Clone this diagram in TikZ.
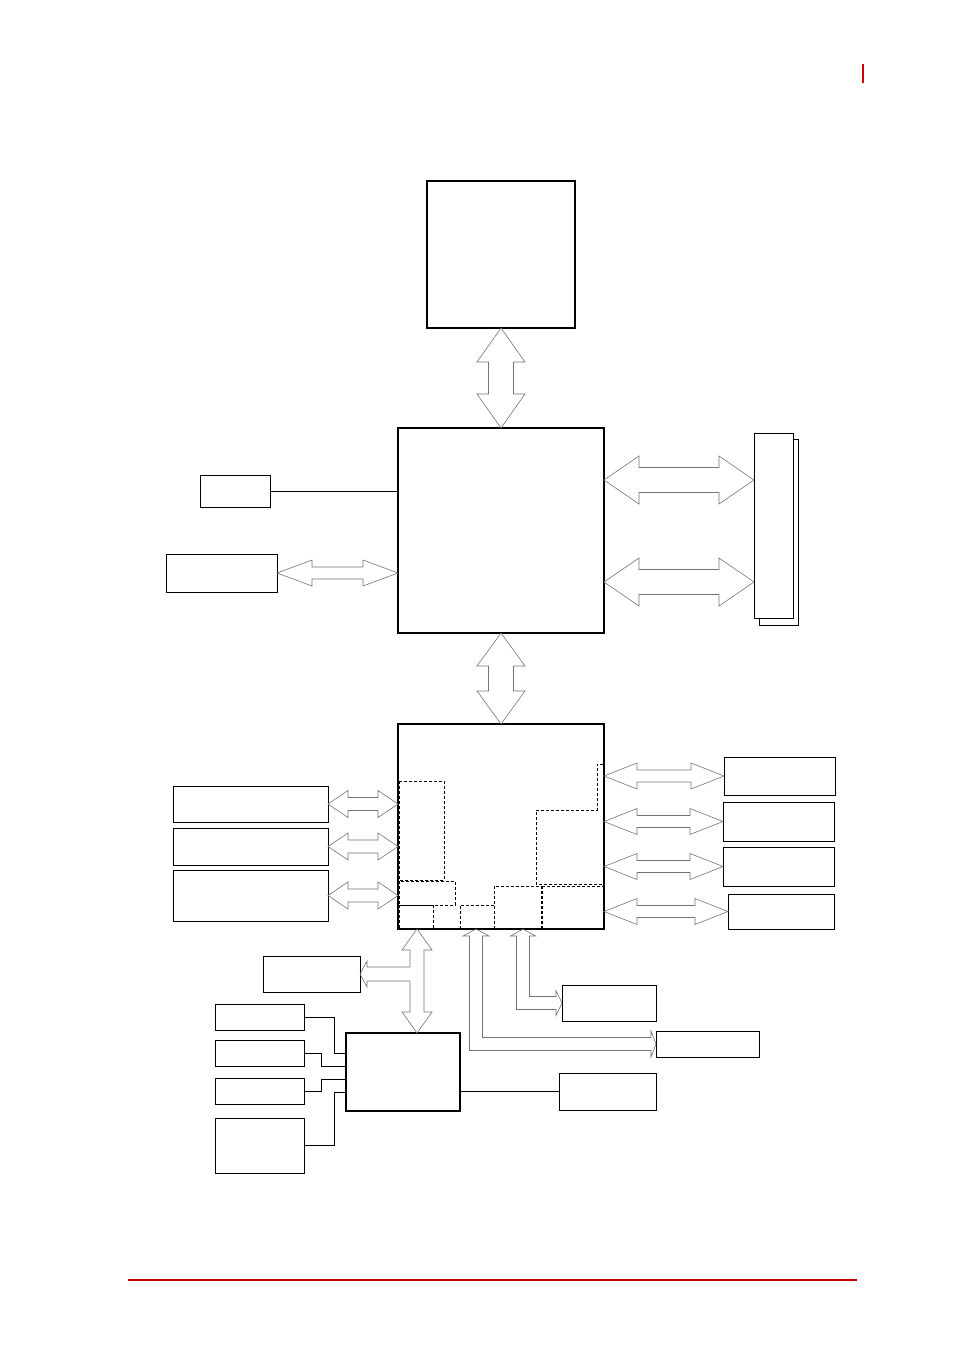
\documentclass[tikz,border=0pt]{standalone}
\usetikzlibrary{calc}
\definecolor{pagered}{HTML}{CC0000}
\tikzset{
  box/.style={draw, line width=0.8pt, inner sep=0pt, outer sep=0pt, anchor=north west},
  chip/.style={box, line width=2pt},
  wire/.style={draw, line width=0.8pt},
  busline/.style={draw=black!55, line width=0.6pt, line join=miter},
  zone/.style={draw, line width=0.8pt, dash pattern=on 3pt off 2pt},
  pageline/.style={draw=pagered, line width=2pt}
}
% hollow double bus arrow: from, to, head length, head half width, shaft half width
\newcommand\dbus[5]{%
  \coordinate (ba) at (#1); \coordinate (bb) at (#2);
  \coordinate (bp) at ($(ba)!#3!(bb)$); \coordinate (bq) at ($(bb)!#3!(ba)$);
  \draw[busline] (ba) -- ($(bp)!#4!90:(bb)$) -- ($(bp)!#5!90:(bb)$)
    -- ($(bq)!#5!-90:(ba)$) -- ($(bq)!#4!-90:(ba)$) -- (bb)
    -- ($(bq)!#4!90:(ba)$) -- ($(bq)!#5!90:(ba)$)
    -- ($(bp)!#5!-90:(bb)$) -- ($(bp)!#4!-90:(bb)$) -- cycle;}
\begin{document}
\begin{tikzpicture}[x=1pt, y=-1pt]
  \useasboundingbox (0,0) rectangle (954,1352);
  \draw[pageline] (863,64) -- (863,83);
  \draw[pageline] (128,1280) -- (857,1280);

  % processor and north bridge
  \node[box, line width=1.3pt, minimum width=148pt, minimum height=147pt] (cpu) at (427,181) {};
  \node[chip, minimum width=206pt, minimum height=205pt] (nb) at (398,428) {};
  \node[box, minimum width=39pt, minimum height=186pt] (memback) at (759,439) {};
  \node[box, fill=white, minimum width=39pt, minimum height=185pt] (mem) at (754,433) {};
  \node[box, minimum width=70pt, minimum height=32pt] (clk) at (200,475) {};
  \node[box, minimum width=111pt, minimum height=38pt] (vga) at (166,554) {};

  % south bridge with its inner blocks
  \draw[zone] (399,781) rectangle (444,880);
  \draw[zone] (399,881) rectangle (455,905);
  \draw[zone] (399,905) -- (399,929);
  \draw[zone] (433,905) -- (433,929);
  \draw[zone] (460,929) |- (494,905);
  \draw[zone] (494,886) rectangle (541,929);
  \draw[zone] (542,886) rectangle (603,929);
  \draw[zone] (603,764) -- (597,764) -- (597,810) -- (536,810) -- (536,884) -- (603,884);
  \draw[wire] (399,905) -- (433,905);
  \node[chip, minimum width=206pt, minimum height=205pt] (sb) at (398,724) {};

  \node[box, minimum width=155pt, minimum height=36pt] (ide) at (173,786) {};
  \node[box, minimum width=155pt, minimum height=37pt] (sata) at (173,828) {};
  \node[box, minimum width=155pt, minimum height=51pt] (usb) at (173,870) {};
  \node[box, minimum width=111pt, minimum height=38pt] (lan) at (724,757) {};
  \node[box, minimum width=111pt, minimum height=39pt] (audio) at (723,802) {};
  \node[box, minimum width=111pt, minimum height=39pt] (pcie) at (723,847) {};
  \node[box, minimum width=106pt, minimum height=35pt] (pci) at (728,894) {};

  % super I/O and its peripherals
  \node[box, minimum width=97pt, minimum height=36pt] (lb) at (263,956) {};
  \node[chip, line width=1.6pt, minimum width=114pt, minimum height=78pt] (sio) at (346,1033) {};
  \node[box, minimum width=89pt, minimum height=26pt] (k1) at (215,1004) {};
  \node[box, minimum width=89pt, minimum height=26pt] (k2) at (215,1040) {};
  \node[box, minimum width=89pt, minimum height=26pt] (k3) at (215,1078) {};
  \node[box, minimum width=89pt, minimum height=55pt] (k4) at (215,1118) {};
  \node[box, minimum width=97pt, minimum height=37pt] (p) at (559,1073) {};
  \node[box, minimum width=94pt, minimum height=36pt] (q) at (562,985) {};
  \node[box, minimum width=103pt, minimum height=26pt] (s) at (656,1031) {};

  % buses
  \dbus{cpu.south}{nb.north}{34pt}{24pt}{12.5pt}
  \dbus{nb.south}{sb.north}{33pt}{24pt}{12.5pt}
  \coordinate (m1) at ($(nb.north east)+(0,52)$);
  \coordinate (m2) at ($(nb.south east)+(0,-51)$);
  \dbus{m1}{m1 -| mem.west}{35pt}{24pt}{12.5pt}
  \dbus{m2}{m2 -| mem.west}{35pt}{24pt}{12.5pt}
  \draw[wire] (clk.east) -- (clk.east -| nb.west);
  \dbus{vga.east}{vga.east -| nb.west}{35pt}{13pt}{6pt}
  \foreach \n in {ide,sata,usb}{\dbus{\n.east}{\n.east -| sb.west}{20pt}{13.5pt}{6.5pt}}
  \foreach \n in {lan,audio,pcie,pci}{\dbus{\n.west -| sb.east}{\n.west}{33pt}{13pt}{6pt}}

  % bus down to the super I/O, with a branch to the left
  \coordinate (s1) at ($(sb.south west)+(19,0)$);
  \dbus{s1}{s1 |- sio.north}{21pt}{15pt}{7pt}
  \fill[white] ($(s1 |- lb.east)+(-7.6,-6.6)$) rectangle ($(s1 |- lb.east)+(-6.4,6.6)$);
  \draw[busline] ($(s1 |- lb.east)+(-7,-7)$) -- ($(lb.east)+(7,-7)$) -- ++(0,-6) -- (lb.east)
    -- ($(lb.east)+(7,13)$) -- ++(0,-6) -- ($(s1 |- lb.east)+(-7,7)$);

  % bent buses
  \coordinate (q0) at ($(sb.south west)+(125,0)$);
  \coordinate (qc) at (q0 |- q.west);
  \draw[busline] (q0) -- ++(12.5,7) -- ++(-6,0) -- ($(qc)+(6.5,-6.5)$) -- ($(q.west)+(-6,-6.5)$)
    -- ++(0,-6) -- (q.west) -- ++(-6,12.5) -- ++(0,-6) -- ($(qc)+(-6.5,6.5)$)
    -- ($(q0)+(-6.5,7)$) -- ++(-6,0) -- cycle;
  \coordinate (p0) at ($(sb.south west)+(78,0)$);
  \coordinate (pc) at (p0 |- s.west);
  \draw[busline] (p0) -- ++(13,7) -- ++(-6.5,0) -- ($(pc)+(6.5,-6.5)$) -- ($(s.west)+(-5,-6.5)$)
    -- ++(0,-6.5) -- (s.west) -- ++(-5,13) -- ++(0,-6.5) -- ($(pc)+(-6.5,6.5)$)
    -- ($(p0)+(-6.5,7)$) -- ++(-6.5,0) -- cycle;

  % super I/O links
  \coordinate (e1) at ($(sio.north west)+(0,20)$);
  \coordinate (e2) at ($(sio.north west)+(0,33)$);
  \coordinate (e3) at ($(sio.north west)+(0,46)$);
  \coordinate (e4) at ($(sio.north west)+(0,59)$);
  \draw[wire] (k1.east) -| ($(e1)+(-11.5,0)$) -- (e1);
  \draw[wire] (k2.east) -| ($(e2)+(-24.5,0)$) -- (e2);
  \draw[wire] (k3.east) -| ($(e3)+(-24.5,0)$) -- (e3);
  \draw[wire] (k4.east) -| ($(e4)+(-11.5,0)$) -- (e4);
  \draw[wire] (p.west -| sio.east) -- (p.west);
\end{tikzpicture}
\end{document}
